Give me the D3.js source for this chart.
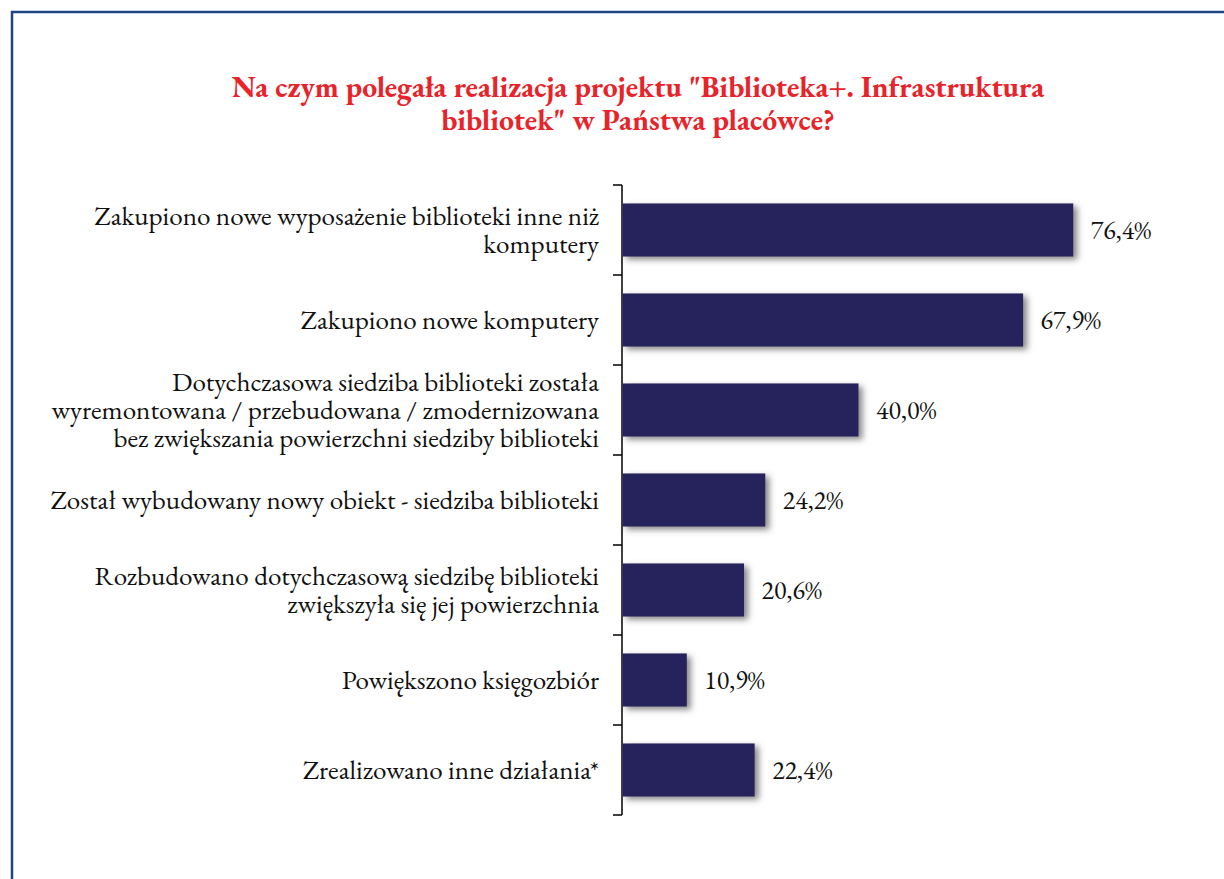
<!DOCTYPE html>
<html><head><meta charset="utf-8">
<script src="https://cdn.jsdelivr.net/npm/d3@7"></script>
<style>html,body{margin:0;padding:0;background:#fff;}svg{display:block;}</style>
</head><body>
<script>
const categories = [
  ["Zakupiono nowe wyposażenie biblioteki inne niż", "komputery"],
  ["Zakupiono nowe komputery"],
  ["Dotychczasowa siedziba biblioteki została", "wyremontowana / przebudowana / zmodernizowana", "bez zwiększania powierzchni siedziby biblioteki"],
  ["Został wybudowany nowy obiekt - siedziba biblioteki"],
  ["Rozbudowano dotychczasową siedzibę biblioteki", "zwiększyła się jej powierzchnia"],
  ["Powiększono księgozbiór"],
  ["Zrealizowano inne działania*"]
];
const values = [76.4, 67.9, 40.0, 24.2, 20.6, 10.9, 22.4];
const valueLabels = ["76,4%", "67,9%", "40,0%", "24,2%", "20,6%", "10,9%", "22,4%"];
const titleLines = ["Na czym polegała realizacja projektu \"Biblioteka+. Infrastruktura", "bibliotek\" w Państwa placówce?"];

// pick an installed serif font
const cvs = document.createElement("canvas").getContext("2d");
function w(font, s){ cvs.font = font; return cvs.measureText(s).width; }
const probe = "mmmmmmmmmmlliWWQ@#ąę";
function has(name){
  return ["monospace","sans-serif"].some(b => w(`40px "${name}", ${b}`, probe) !== w(`40px ${b}`, probe));
}
const candidates = ["EB Garamond","Garamond","Liberation Serif","Tinos","Times New Roman","DejaVu Serif","Noto Serif","FreeSerif","Nimbus Roman"];
const found = candidates.find(has);
const FONT = found ? `"${found}", serif` : "serif";

function fitSize(text, target, weight){
  const ww = w(`${weight||"normal"} 100px ${FONT}`, text);
  return 100 * target / ww;
}

const W = 1224, H = 879;
const svg = d3.select("body").append("svg").attr("width", W).attr("height", H);

const defs = svg.append("defs");
const f = defs.append("filter").attr("id","sh").attr("x","-10%").attr("y","-20%").attr("width","130%").attr("height","160%");
f.append("feDropShadow").attr("dx",4).attr("dy",3).attr("stdDeviation",3).attr("flood-color","#555").attr("flood-opacity",0.7);

// frame
svg.append("path").attr("d", `M12,${H+5} L12,12 L${W+5},12`).attr("fill","none").attr("stroke","#1F4684").attr("stroke-width",2.5);

// title
const titleSize = Math.min(31, fitSize(titleLines[0], 813, "bold"));
const title = svg.append("text").attr("text-anchor","middle").attr("fill","#E8232A")
  .style("font-family", FONT).attr("font-weight","bold").attr("font-size", titleSize);
titleLines.forEach((t,i)=> title.append("tspan").attr("x",638).attr("y", 97 + i*33).text(t));

const x = d3.scaleLinear().domain([0,100]).range([622, 1212]);
const y = d3.scaleBand().domain(d3.range(values.length)).range([185, 815]).paddingInner(0.41).paddingOuter(0.205);

// axis
const axisG = svg.append("g").attr("transform","translate(622,0)");
axisG.append("line").attr("x1",0).attr("x2",0).attr("y1",185).attr("y2",815).attr("stroke","#000").attr("stroke-width",1.5);
const step = y.step();
const tickYs = d3.range(values.length+1).map(i => 185 + i*step);
axisG.selectAll("line.t").data(tickYs).join("line").attr("class","t")
  .attr("x1",-9).attr("x2",0).attr("y1",d=>d).attr("y2",d=>d).attr("stroke","#000").attr("stroke-width",1.5);

// bars
svg.append("g").selectAll("rect").data(values).join("rect")
  .attr("x", x(0)+0.5).attr("y",(d,i)=>y(i)).attr("width", d=>x(d)-x(0)).attr("height", y.bandwidth())
  .attr("fill","#27225B").attr("filter","url(#sh)");

// value labels
const valSize = Math.min(26, fitSize(valueLabels[0], 66));
svg.append("g").selectAll("text").data(values).join("text")
  .style("font-family", FONT)
  .attr("x", d=>x(d)+18).attr("y",(d,i)=>y(i)+y.bandwidth()/2).attr("dy","0.35em")
  .attr("font-size",valSize).attr("fill","#111")
  .text((d,i)=>valueLabels[i]);

// category labels
const labSize = Math.min(27.5, fitSize(categories[0][0], 505));
const lh = 28;
const cg = svg.append("g");
categories.forEach((lines,i)=>{
  const cy = y(i)+y.bandwidth()/2;
  const t = cg.append("text").style("font-family", FONT).attr("text-anchor","end").attr("font-size",labSize).attr("fill","#111");
  lines.forEach((l,j)=>{
    t.append("tspan").attr("x",599).attr("y", cy + (j-(lines.length-1)/2)*lh).attr("dy","0.35em").text(l);
  });
});
</script>
</body></html>
